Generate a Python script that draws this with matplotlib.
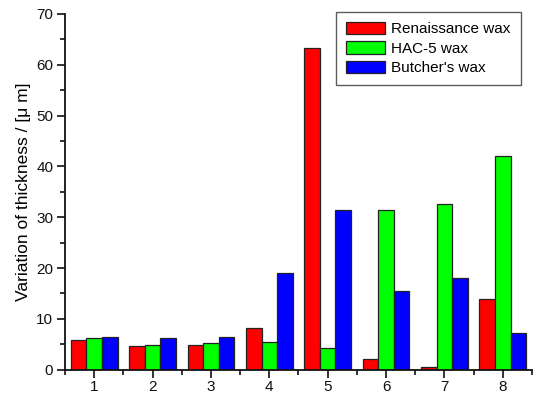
import matplotlib
matplotlib.use("Agg")
import matplotlib.pyplot as plt
import numpy as np
from matplotlib.ticker import MultipleLocator

plt.rcParams['font.family'] = ['Liberation Sans', 'DejaVu Sans']

samples = [1, 2, 3, 4, 5, 6, 7, 8]
renaissance = [5.8, 4.7, 4.8, 8.3, 63.2, 2.2, 0.5, 13.9]
hac5 = [6.3, 4.9, 5.2, 5.4, 4.3, 31.5, 32.6, 42.1]
butchers = [6.4, 6.3, 6.4, 19.1, 31.4, 15.4, 18.1, 7.3]
series_names = ["Renaissance wax", "HAC-5 wax", "Butcher's wax"]
colors = ["#ff0000", "#00ff00", "#0000ff"]

fig = plt.figure(figsize=(5.33, 3.95), dpi=100)
ax = fig.add_axes([0.122, 0.064, 0.876, 0.901])

x = np.array(samples, dtype=float)
w = 0.267
for i, (vals, name, c) in enumerate(zip([renaissance, hac5, butchers], series_names, colors)):
    ax.bar(x + (i - 1) * w, vals, width=w, color=c, edgecolor="#222222",
           linewidth=0.9, label=name)

ax.set_xlim(0.5, 8.5)
ax.set_ylim(0, 70)
ax.set_xticks(samples)
ax.set_xticklabels([str(s) for s in samples])
ax.xaxis.set_minor_locator(MultipleLocator(1, offset=0.5))
ax.yaxis.set_major_locator(MultipleLocator(10))
ax.yaxis.set_minor_locator(MultipleLocator(5))

for side in ("top", "right"):
    ax.spines[side].set_visible(False)
for side in ("left", "bottom"):
    ax.spines[side].set_linewidth(1.3)
    ax.spines[side].set_color("#111111")

ax.tick_params(axis="both", which="major", direction="out", length=6, width=1.2,
               labelsize=11, colors="#111111")
ax.tick_params(axis="x", which="major", pad=1.5)
ax.tick_params(axis="y", which="major", pad=2.5)
ax.tick_params(axis="both", which="minor", direction="out", length=3.5, width=1.2,
               colors="#111111")

ax.set_ylabel("Variation of thickness / [\u03bc m]", fontsize=12.5, labelpad=4)

leg = ax.legend(loc="upper right", bbox_to_anchor=(0.976, 1.006), borderaxespad=0,
                fontsize=11, frameon=True, fancybox=False, handlelength=2.6,
                handleheight=0.9, handletextpad=0.4, borderpad=0.65,
                labelspacing=0.32, edgecolor="#333333")
leg.get_frame().set_linewidth(1.0)

fig.savefig("out.png", dpi=100)
